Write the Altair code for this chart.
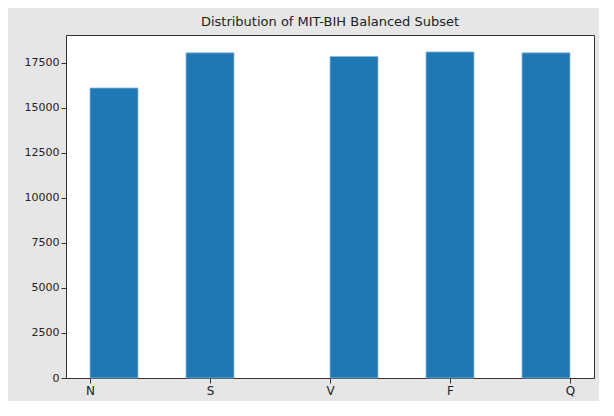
import pandas as pd
import altair as alt

classes = ["N", "S", "V", "F", "Q"]
counts = [16100, 18050, 17850, 18100, 18050]
bin_start = [0.0, 0.8, 2.0, 2.8, 3.6]
bin_end = [0.4, 1.2, 2.4, 3.2, 4.0]

df = pd.DataFrame({"cls": classes, "count": counts, "b0": bin_start, "b1": bin_end})

label_expr = "['N','S','V','F','Q'][datum.value]"

bars = alt.Chart(df).mark_bar(color="#1f77b4", stroke="#8fbbd9", strokeWidth=0.8).encode(
    x=alt.X("b0:Q", scale=alt.Scale(domain=[-0.2, 4.2], nice=False, zero=False),
            axis=alt.Axis(title=None, values=[0, 1, 2, 3, 4], labelExpr=label_expr, grid=False,
                          labelFontSize=12, labelColor="#222", domainColor="#333", tickColor="#333")),
    x2="b1",
    y=alt.Y("count:Q", scale=alt.Scale(domain=[0, 19040], nice=False),
            axis=alt.Axis(title=None, values=[0, 2500, 5000, 7500, 10000, 12500, 15000, 17500],
                          format="d", grid=False, labelFontSize=11, labelColor="#222",
                          domainColor="#333", tickColor="#333")),
    y2=alt.datum(0),
    tooltip=["cls", "count"],
).properties(
    width=528, height=343,
    padding={"left": 16, "top": 8, "right": 5, "bottom": 5},
    title=alt.TitleParams("Distribution of MIT-BIH Balanced Subset", fontSize=13,
                          fontWeight="normal", color="#222", offset=6),
)

chart = bars.configure(background="#e6e6e6", font="DejaVu Sans").configure_view(
    fill="white", stroke="#333", strokeWidth=1
).configure_axis(labelFont="DejaVu Sans").configure_title(font="DejaVu Sans")

chart.save("out.html", embed_options={"renderer": "svg", "actions": False})
